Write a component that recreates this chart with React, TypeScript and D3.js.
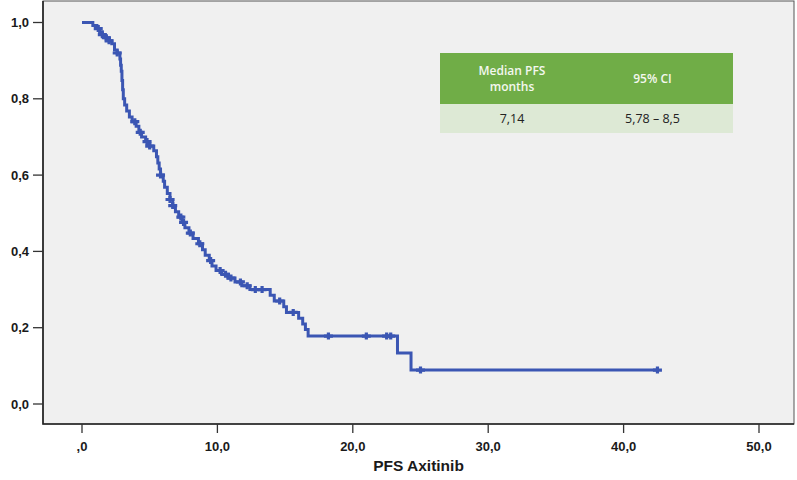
import React, { useRef, useEffect } from "react";
import * as d3 from "d3";

// Kaplan-Meier steps: [month, survival after the drop]
const eventTimes = [
  0.8, 1.1, 1.3, 1.5, 1.7, 2.0, 2.2, 2.4, 2.6, 2.8, 2.85, 2.9, 2.95, 3.0, 3.05, 3.15, 3.3, 3.5, 3.7, 4.0,
  4.2, 4.4, 4.7, 5.0, 5.3, 5.5, 5.6, 5.7, 5.8, 6.0, 6.1, 6.3, 6.5, 6.7, 6.9, 7.14, 7.4, 7.6, 7.9, 8.2,
  8.6, 8.9, 9.1, 9.4, 9.6, 9.9, 10.3, 10.8, 11.3, 11.8, 12.4, 13.9, 14.2, 14.9, 15.1, 16.0, 16.3, 16.5,
  16.7, 23.3, 24.3,
];
const eventSurv = [
  0.992, 0.984, 0.976, 0.968, 0.96, 0.952, 0.944, 0.928, 0.92, 0.904, 0.888, 0.872, 0.848, 0.824, 0.8,
  0.784, 0.768, 0.752, 0.74, 0.728, 0.712, 0.7, 0.688, 0.676, 0.664, 0.648, 0.632, 0.616, 0.6, 0.584,
  0.568, 0.552, 0.536, 0.52, 0.504, 0.49, 0.476, 0.462, 0.448, 0.434, 0.42, 0.404, 0.39, 0.376, 0.362,
  0.35, 0.34, 0.33, 0.32, 0.31, 0.3, 0.285, 0.27, 0.255, 0.24, 0.225, 0.21, 0.195, 0.178, 0.134, 0.089,
];
const censorTimes = [
  1.2, 1.5, 1.8, 2.0, 2.6, 3.9, 4.3, 4.8, 5.0, 5.8, 6.5, 6.7, 7.3, 7.5, 8.0, 8.7, 9.5, 10.2, 10.6, 11.0,
  11.7, 12.2, 12.8, 13.3, 14.6, 15.6, 18.2, 21.0, 22.5, 22.8, 25.0, 42.5,
];
const lastTime = 42.5;

const xTicks = [0, 10, 20, 30, 40, 50];
const xTickLabels = [",0", "10,0", "20,0", "30,0", "40,0", "50,0"];
const yTicks = [0, 0.2, 0.4, 0.6, 0.8, 1.0];
const yTickLabels = ["0,0", "0,2", "0,4", "0,6", "0,8", "1,0"];

const tableHeader = [["Median PFS", "months"], ["95% CI"]];
const tableRow = ["7,14", "5,78 – 8,5"];

const width = 797;
const height = 480;
const frame = { left: 43, right: 794, top: 1, bottom: 424 };
const lineColor = "#3b56b3";

function survAt(t: number) {
  let s = 1;
  for (let i = 0; i < eventTimes.length; i++) {
    if (eventTimes[i] <= t) s = eventSurv[i];
  }
  return s;
}

const App: React.FC = () => {
  const ref = useRef<SVGSVGElement | null>(null);

  useEffect(() => {
    if (!ref.current) return;
    const svg = d3.select(ref.current);
    svg.selectAll("*").remove();

    const x = d3.scaleLinear().domain([0, 50]).range([82, 759]);
    const y = d3.scaleLinear().domain([0, 1]).range([404, 22.5]);

    // plot frame
    svg
      .append("rect")
      .attr("x", frame.left)
      .attr("y", frame.top)
      .attr("width", frame.right - frame.left)
      .attr("height", frame.bottom - frame.top)
      .attr("fill", "#f0f0f0")
      .attr("stroke", "#555")
      .attr("stroke-width", 1);
    svg
      .append("path")
      .attr("d", `M${frame.left},${frame.top}V${frame.bottom}H${frame.right}`)
      .attr("fill", "none")
      .attr("stroke", "#222")
      .attr("stroke-width", 1.6);

    // y axis
    const yg = svg.append("g").attr("font-family", "Liberation Sans, Arial, sans-serif").attr("font-size", 13);
    yTicks.forEach((v, i) => {
      yg.append("line")
        .attr("x1", frame.left - 10)
        .attr("x2", frame.left)
        .attr("y1", y(v))
        .attr("y2", y(v))
        .attr("stroke", "#333")
        .attr("stroke-width", 1.3);
      yg.append("text")
        .attr("x", frame.left - 14)
        .attr("y", y(v))
        .attr("dy", "0.35em")
        .attr("text-anchor", "end")
        .attr("fill", "#1a1a1a")
        .attr("font-weight", 600)
        .text(yTickLabels[i]);
    });

    // x axis
    const xg = svg.append("g").attr("font-family", "Liberation Sans, Arial, sans-serif").attr("font-size", 13);
    xTicks.forEach((v, i) => {
      xg.append("line")
        .attr("x1", x(v))
        .attr("x2", x(v))
        .attr("y1", frame.bottom)
        .attr("y2", frame.bottom + 9)
        .attr("stroke", "#333")
        .attr("stroke-width", 1.3);
      xg.append("text")
        .attr("x", x(v))
        .attr("y", frame.bottom + 27)
        .attr("text-anchor", "middle")
        .attr("fill", "#1a1a1a")
        .attr("font-weight", 600)
        .text(xTickLabels[i]);
    });
    svg
      .append("text")
      .attr("x", (frame.left + frame.right) / 2)
      .attr("y", 471)
      .attr("text-anchor", "middle")
      .attr("font-family", "Liberation Sans, Arial, sans-serif")
      .attr("font-size", 15.5)
      .attr("font-weight", "bold")
      .attr("fill", "#1a1a1a")
      .text("PFS Axitinib");

    // survival curve
    const pts: [number, number][] = [[0, 1]];
    eventTimes.forEach((t, i) => pts.push([t, eventSurv[i]]));
    pts.push([lastTime, survAt(lastTime)]);
    const line = d3
      .line<[number, number]>()
      .curve(d3.curveStepAfter)
      .x((d) => x(d[0]))
      .y((d) => y(d[1]));
    svg
      .append("path")
      .attr("d", line(pts))
      .attr("fill", "none")
      .attr("stroke", lineColor)
      .attr("stroke-width", 3);

    // censor marks
    svg
      .append("g")
      .attr("stroke", lineColor)
      .attr("stroke-width", 3.2)
      .selectAll("path")
      .data(censorTimes)
      .join("path")
      .attr("d", (t) => {
        const cx = x(t);
        const cy = y(survAt(t));
        return `M${cx - 4.5},${cy}H${cx + 4.5}M${cx},${cy - 3.5}V${cy + 3.5}`;
      });

    // table
    const tx = 440;
    const tw = 293;
    const colW = [146, 147];
    const tg = svg.append("g").attr("font-family", "Open Sans, Liberation Sans, sans-serif");
    tg.append("rect").attr("x", tx).attr("y", 53).attr("width", tw).attr("height", 51).attr("fill", "#70ad47");
    tg.append("rect").attr("x", tx).attr("y", 104).attr("width", tw).attr("height", 29).attr("fill", "#dde9d5");
    tableHeader.forEach((lines, i) => {
      const cx = tx + (i === 0 ? colW[0] / 2 - 1 : colW[0] + colW[1] / 2 - 7);
      lines.forEach((l, j) => {
        tg.append("text")
          .attr("x", cx)
          .attr("y", 78.5 + (j - (lines.length - 1) / 2) * 16)
          .attr("dy", "0.35em")
          .attr("text-anchor", "middle")
          .attr("font-size", 12)
          .attr("font-weight", 600)
          .attr("fill", "#f4f8ef")
          .text(l);
      });
    });
    tableRow.forEach((v, i) => {
      const cx = tx + (i === 0 ? colW[0] / 2 - 1 : colW[0] + colW[1] / 2 - 7);
      tg.append("text")
        .attr("x", cx)
        .attr("y", 119)
        .attr("dy", "0.35em")
        .attr("text-anchor", "middle")
        .attr("font-size", 12.5)
        .attr("fill", "#222")
        .text(v);
    });
  }, []);

  return (
    <svg
      ref={ref}
      width={width}
      height={height}
      style={{ position: "absolute", left: 0, top: 0, background: "#fff" }}
    ></svg>
  );
};

export default App;
